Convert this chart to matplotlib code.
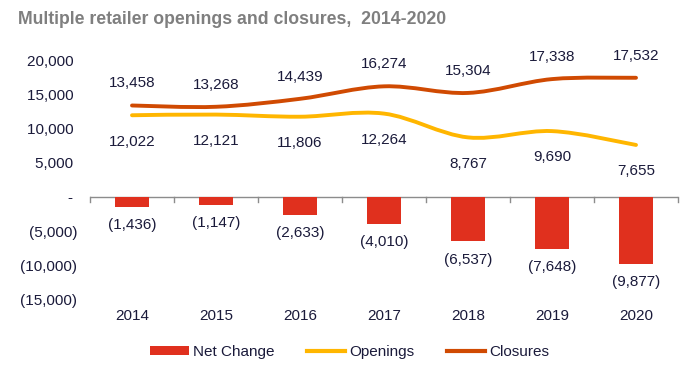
import matplotlib
matplotlib.use("Agg")
import matplotlib.pyplot as plt
from matplotlib.path import Path
from matplotlib.patches import PathPatch, Patch
from matplotlib.lines import Line2D
import numpy as np

years = ["2014", "2015", "2016", "2017", "2018", "2019", "2020"]
openings = [12022, 12121, 11806, 12264, 8767, 9690, 7655]
closures = [13458, 13268, 14439, 16274, 15304, 17338, 17532]
net_change = [-1436, -1147, -2633, -4010, -6537, -7648, -9877]
yticks = [-15000, -10000, -5000, 0, 5000, 10000, 15000, 20000]

plt.rcParams['font.family'] = ['Liberation Sans', 'DejaVu Sans']

C_BAR = "#E0301E"
C_OPEN = "#FFB600"
C_CLOSE = "#D04A02"
C_TXT = "#1A1A3A"
FS = 11

def fmt(v):
    if v == 0:
        return "-"
    if v < 0:
        return "({:,})".format(-v)
    return "{:,}".format(v)

fig = plt.figure(figsize=(7.0, 3.78), dpi=100)
ax = fig.add_axes([90/700, 1-299/378, (678-90)/700, (299-61)/378])

x = np.arange(len(years))
ax.bar(x, net_change, width=0.4, color=C_BAR, zorder=2)

def smooth(ax, xs, ys, color):
    xs = np.asarray(xs, float); ys = np.asarray(ys, float)
    n = len(xs)
    verts = [(xs[0], ys[0])]
    codes = [Path.MOVETO]
    for i in range(n-1):
        p0 = np.array([xs[max(i-1, 0)], ys[max(i-1, 0)]])
        p1 = np.array([xs[i], ys[i]])
        p2 = np.array([xs[i+1], ys[i+1]])
        p3 = np.array([xs[min(i+2, n-1)], ys[min(i+2, n-1)]])
        c1 = p1 + (p2 - p0) / 6.0
        c2 = p2 - (p3 - p1) / 6.0
        verts += [tuple(c1), tuple(c2), tuple(p2)]
        codes += [Path.CURVE4]*3
    ax.add_patch(PathPatch(Path(verts, codes), fill=False, edgecolor=color,
                           lw=2.8, capstyle='round', zorder=3))

smooth(ax, x, openings, C_OPEN)
smooth(ax, x, closures, C_CLOSE)

for xi, v in zip(x, closures):
    ax.annotate(fmt(v), (xi, v), xytext=(0, 16), textcoords='offset points',
                ha='center', va='center', fontsize=FS, color=C_TXT)
for xi, v in zip(x, openings):
    ax.annotate(fmt(v), (xi, v), xytext=(0, -19), textcoords='offset points',
                ha='center', va='center', fontsize=FS, color=C_TXT)
for xi, v in zip(x, net_change):
    ax.annotate(fmt(v), (xi, v), xytext=(0, -13), textcoords='offset points',
                ha='center', va='center', fontsize=FS, color=C_TXT)

ax.set_xlim(-0.5, len(years)-0.5)
ax.set_ylim(-15000, 20000)
ax.set_yticks(yticks)
ax.set_yticklabels([fmt(v) + ("" if v < 0 else " ") for v in yticks],
                   fontsize=FS, color=C_TXT)
ax.tick_params(axis='y', length=0, pad=9)
ax.set_xticks([])
for s in ax.spines.values():
    s.set_visible(False)

# zero axis with category ticks
ax.axhline(0, color="#8C8C8C", lw=1.0, zorder=1)
for b in np.arange(-0.5, len(years), 1.0):
    ax.plot([b, b], [0, -700], color="#8C8C8C", lw=1.0, zorder=1, clip_on=False)

for xi, y in zip(x, years):
    ax.annotate(y, (xi, 0), xycoords=('data', 'figure fraction'),
                xytext=(xi, 1-316/378), textcoords=('data', 'figure fraction'),
                ha='center', va='center', fontsize=FS, color=C_TXT)

fig.text(18/700, 1-20/378, "Multiple retailer openings and closures,  2014-2020",
         fontsize=12.7, fontweight='bold', color="#7F7F7F", ha='left', va='center')

handles = [Patch(facecolor=C_BAR, edgecolor='none'),
           Line2D([], [], color=C_OPEN, lw=3),
           Line2D([], [], color=C_CLOSE, lw=3)]
leg = fig.legend(handles, ["Net Change", "Openings", "Closures"], loc='center',
                 bbox_to_anchor=(350/700, 1-352/378), ncol=3, frameon=False,
                 fontsize=FS, handlelength=2.5, handleheight=0.45,
                 handletextpad=0.3, columnspacing=2.1)
for t in leg.get_texts():
    t.set_color(C_TXT)

fig.savefig("out.png", dpi=100)
